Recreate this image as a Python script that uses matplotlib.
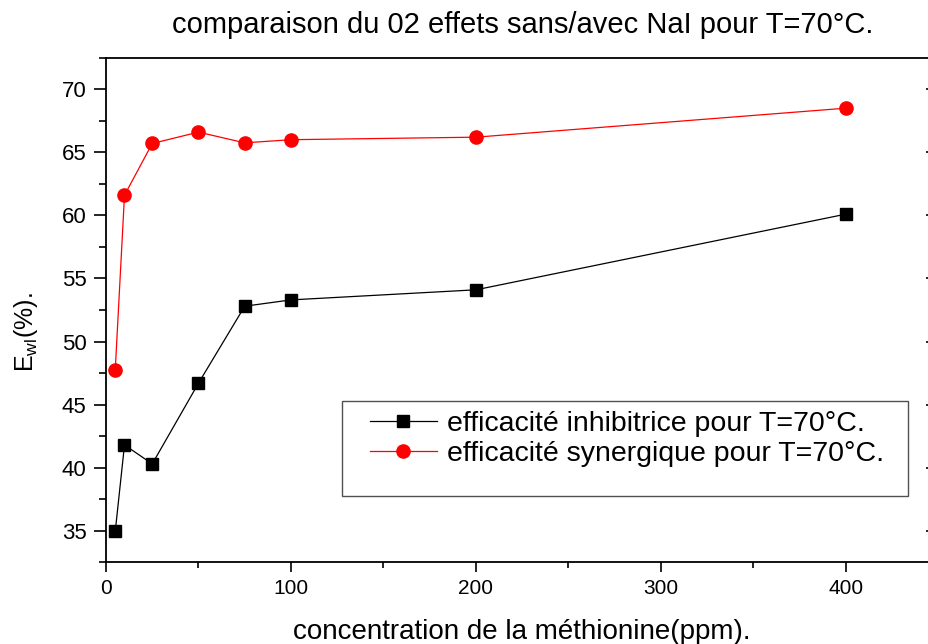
import matplotlib
matplotlib.use("Agg")
import matplotlib.pyplot as plt
from matplotlib.patches import Rectangle
from matplotlib.ticker import MultipleLocator

plt.rcParams['font.family'] = ['Liberation Sans', 'DejaVu Sans']
plt.rcParams['mathtext.fontset'] = 'custom'
plt.rcParams['mathtext.rm'] = 'Liberation Sans'

# concentration de méthionine (ppm)
conc = [5, 10, 25, 50, 75, 100, 200, 400]
# efficacité inhibitrice, sans NaI
e_inhib = [34.95, 41.8, 40.3, 46.7, 52.8, 53.3, 54.1, 60.1]
# efficacité synergique, avec NaI
e_syn = [47.75, 61.6, 65.7, 66.6, 65.75, 66.0, 66.2, 68.5]

lab_inhib = "efficacité inhibitrice pour T=70°C."
lab_syn = "efficacité synergique pour T=70°C."

fig = plt.figure(figsize=(9.29, 6.44), dpi=100)
ax = fig.add_axes([0.1141, 0.1269, 0.8961, 0.7835])

ax.plot(conc, e_inhib, color='black', lw=0.9, marker='s', ms=8.6,
        mec='black', mfc='black', label=lab_inhib)
ax.plot(conc, e_syn, color='red', lw=0.9, marker='o', ms=9.5,
        mec='red', mfc='red', label=lab_syn)

ax.set_xlim(0, 450)
ax.set_ylim(32.5, 72.5)

ax.xaxis.set_major_locator(MultipleLocator(100))
ax.xaxis.set_minor_locator(MultipleLocator(50))
ax.yaxis.set_major_locator(MultipleLocator(5))
ax.yaxis.set_minor_locator(MultipleLocator(2.5))

for s in ax.spines.values():
    s.set_linewidth(1.3)

ax.tick_params(axis='y', which='major', direction='out', length=9, width=1.2,
               labelsize=16, pad=5)
ax.tick_params(axis='y', which='minor', direction='out', length=5, width=1.2)
ax.tick_params(axis='x', which='major', direction='out', length=7, width=1.2,
               labelsize=15, pad=5)
ax.tick_params(axis='x', which='minor', direction='out', length=4, width=1.2)

# ticks pointing inward on the right-hand frame
sec = ax.secondary_yaxis('right')
sec.yaxis.set_major_locator(MultipleLocator(5))
sec.yaxis.set_minor_locator(MultipleLocator(100))
sec.tick_params(direction='in', length=9, width=1.2, labelright=False)
sec.spines['right'].set_linewidth(1.3)

ax.set_xlabel("concentration de la méthionine(ppm).", fontsize=20, labelpad=15)
ax.set_ylabel(r"E$_{\mathregular{wl}}$(%).", fontsize=18)
ax.yaxis.set_label_coords(-0.079, 0.456)
ax.set_title("comparaison du 02 effets sans/avec NaI pour T=70°C.",
             fontsize=21, pad=18)

ax.add_patch(Rectangle((0.2831, 0.1314), 0.6803, 0.1883, transform=ax.transAxes,
                       fill=False, edgecolor='#505050', lw=1.0, zorder=5))
ax.legend(loc='upper left', bbox_to_anchor=(0.3171, 0.3005), frameon=False,
          fontsize=20.5, handlelength=2.35, handletextpad=0.34, labelspacing=0.15,
          borderpad=0, borderaxespad=0)

fig.savefig("out.png", dpi=100)
